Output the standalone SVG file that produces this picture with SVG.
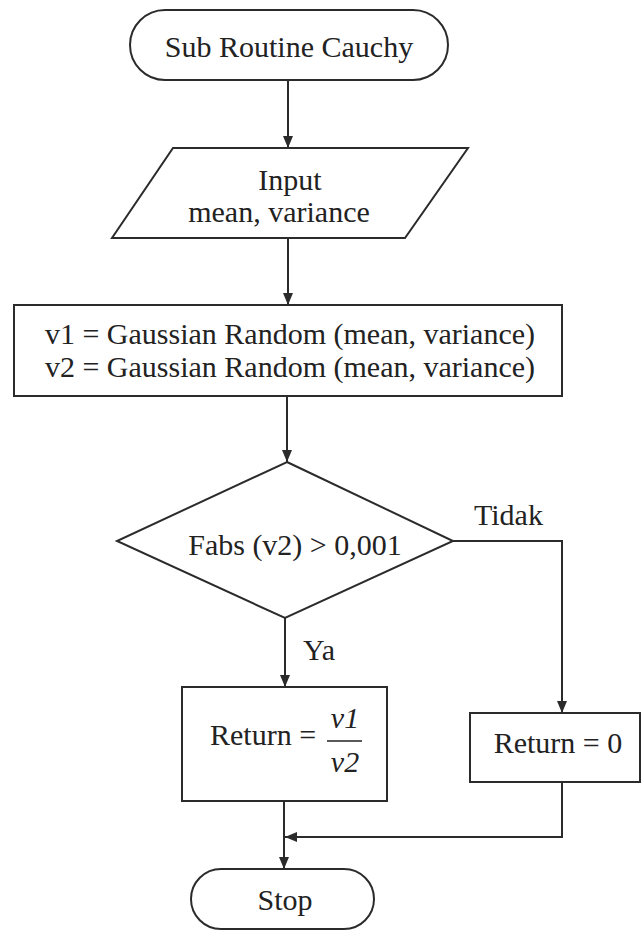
<svg xmlns="http://www.w3.org/2000/svg" width="643" height="931" viewBox="0 0 643 931">
<style>
.s{fill:#fff;stroke:#2b2b2b;stroke-width:2}
.c{fill:none;stroke:#2b2b2b;stroke-width:2}
text{font-family:"Liberation Serif","Times New Roman",serif;font-size:30px;fill:#222}
.m{text-anchor:middle}
.i{font-style:italic}
</style>
<defs>
<marker id="ah" viewBox="0 0 12 10" refX="12" refY="5" markerWidth="12" markerHeight="10" markerUnits="userSpaceOnUse" orient="auto">
<path d="M0,0 L12,5 L0,10 Z" fill="#2b2b2b"/>
</marker>
</defs>
<rect width="643" height="931" fill="#fff"/>
<g id="connectors">
<line class="c" x1="288" y1="80" x2="288" y2="148" marker-end="url(#ah)"/>
<line class="c" x1="288" y1="238" x2="288" y2="305" marker-end="url(#ah)"/>
<line class="c" x1="287" y1="396" x2="287" y2="462" marker-end="url(#ah)"/>
<line class="c" x1="285" y1="618" x2="285" y2="687" marker-end="url(#ah)"/>
<polyline class="c" points="453,541 562,541 562,713" marker-end="url(#ah)"/>
<polyline class="c" points="562,782 562,837 285,837" marker-end="url(#ah)"/>
<line class="c" x1="284" y1="801" x2="284" y2="869" marker-end="url(#ah)"/>
<text x="474" y="525">Tidak</text>
<text x="303" y="660">Ya</text>
</g>
<g id="start">
<rect class="s" x="130" y="10" width="318" height="70" rx="35" ry="35"/>
<text class="m" x="289" y="57">Sub Routine Cauchy</text>
</g>
<g id="input">
<polygon class="s" points="173,148 468,148 405,238 112,238"/>
<text class="m" x="290" y="190">Input</text>
<text class="m" x="279" y="222">mean, variance</text>
</g>
<g id="process">
<rect class="s" x="14" y="305" width="548" height="91"/>
<text class="m" x="290" y="344">v1 = Gaussian Random (mean, variance)</text>
<text class="m" x="290" y="377">v2 = Gaussian Random (mean, variance)</text>
</g>
<g id="decision">
<polygon class="s" points="287,462 453,541 285,618 117,541"/>
<text class="m" x="295" y="555">Fabs (v2) &gt; 0,001</text>
</g>
<g id="returnDiv">
<rect class="s" x="182" y="687" width="205" height="114"/>
<text x="210" y="745">Return =</text>
<text class="m i" x="345" y="728">v1</text>
<line x1="327" y1="741" x2="362" y2="741" stroke="#222" stroke-width="1.5"/>
<text class="m i" x="345" y="772">v2</text>
</g>
<g id="returnZero">
<rect class="s" x="470" y="713" width="170" height="69"/>
<text class="m" x="558" y="753">Return = 0</text>
</g>
<g id="stop">
<rect class="s" x="191" y="869" width="183" height="60" rx="30" ry="30"/>
<text class="m" x="285" y="910">Stop</text>
</g>
</svg>
